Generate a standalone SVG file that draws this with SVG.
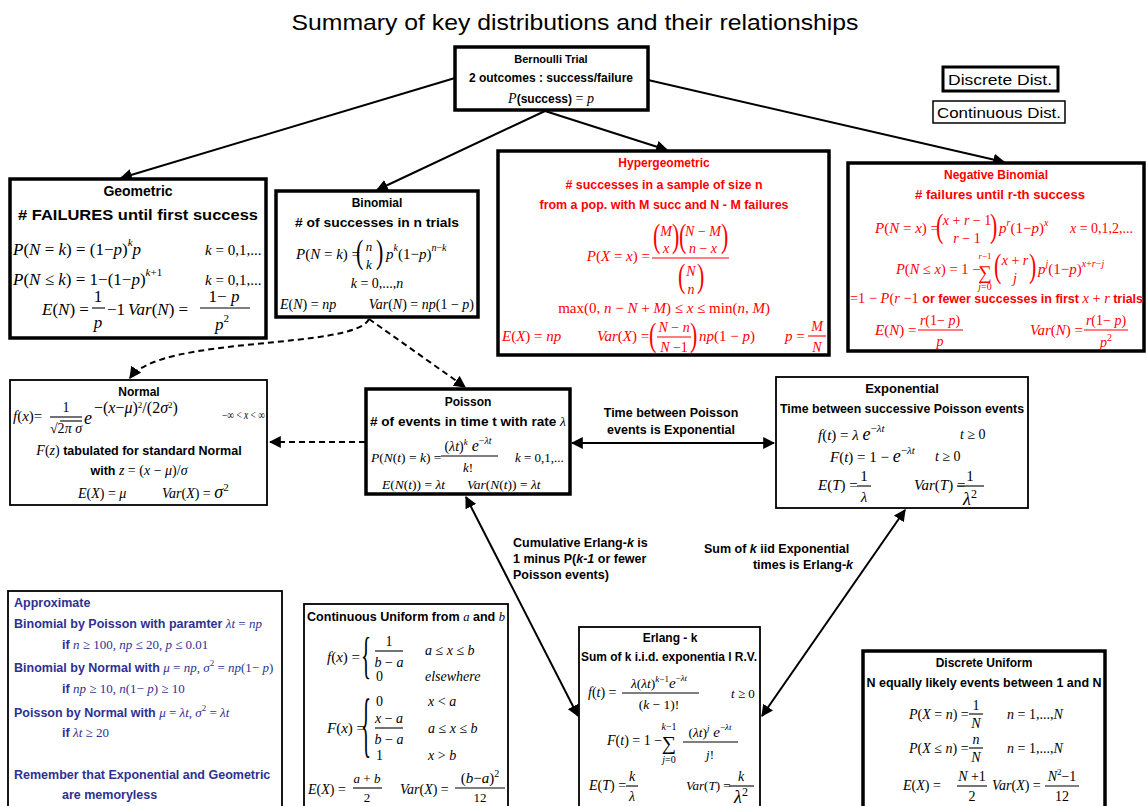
<svg xmlns="http://www.w3.org/2000/svg" width="1146" height="806" viewBox="0 0 1146 806">
<style>
.bx{fill:#fff;stroke:#000;stroke-width:3.5}
.tb{fill:#fff;stroke:#000;stroke-width:1.8}
.s{font-family:"Liberation Sans",Arial,sans-serif;font-weight:bold}
.st{font-family:"Liberation Sans",Arial,sans-serif;font-weight:bold;font-style:normal}
.m{font-family:"Liberation Serif","Times New Roman",serif;font-style:italic}
.u{font-style:normal}
.c{text-anchor:middle}
.e{text-anchor:end}
.ln{stroke:#000;stroke-width:2;fill:none}
.dl{stroke:#000;stroke-width:2;fill:none;stroke-dasharray:6,4}
.fb{stroke:#000;stroke-width:1.1}
.fr{stroke:#f00;stroke-width:1.1}
.bp{font-family:"Liberation Serif","Times New Roman",serif;font-size:22px}
</style>
<defs>
<marker id="ah" viewBox="0 0 10 10" refX="9" refY="5" markerWidth="6" markerHeight="6" orient="auto-start-reverse" markerUnits="strokeWidth"><path d="M0,0 L10,5 L0,10 z" fill="#000"/></marker>
</defs>
<rect width="1146" height="806" fill="#fff"/>
<text x="575" y="30" text-anchor="middle" font-family="Liberation Sans, Arial, sans-serif" font-size="22" textLength="567" lengthAdjust="spacingAndGlyphs">Summary of key distributions and their relationships</text>

<g id="connectors">
<path class="ln" d="M455,78 L121,178" marker-end="url(#ah)"/>
<path class="ln" d="M545,111 L377,190" marker-end="url(#ah)"/>
<path class="ln" d="M545,111 L667,150" marker-end="url(#ah)"/>
<path class="ln" d="M648,80 L1004,162" marker-end="url(#ah)"/>
<path class="dl" d="M369,319 C355,350 160,335 130,378" marker-end="url(#ah)"/>
<path class="dl" d="M369,319 L465,387" marker-end="url(#ah)"/>
<path class="dl" d="M365,442 L270,442" marker-end="url(#ah)"/>
<path class="ln" d="M572,443 L774,443" marker-start="url(#ah)" marker-end="url(#ah)"/>
<path class="ln" d="M466,497 L578,716" marker-start="url(#ah)" marker-end="url(#ah)"/>
<path class="ln" d="M905,510 L762,716" marker-start="url(#ah)" marker-end="url(#ah)"/>
<text class="s c" x="671" y="417" font-size="12.5">Time between Poisson</text>
<text class="s c" x="671" y="434" font-size="12.5">events is Exponential</text>
<text class="s" x="513" y="547" font-size="12.5">Cumulative Erlang-<tspan font-style="italic">k</tspan> is</text>
<text class="s" x="513" y="563" font-size="12.5">1 minus P(<tspan font-style="italic">k-1</tspan> or fewer</text>
<text class="s" x="513" y="579" font-size="12.5">Poisson events)</text>
<text class="s" x="704" y="553" font-size="12.5">Sum of <tspan font-style="italic">k</tspan> iid Exponential</text>
<text class="s e" x="853" y="569" font-size="12.5">times is Erlang-<tspan font-style="italic">k</tspan></text>
</g>

<g id="bernoulli">
<rect class="bx" x="455" y="47" width="193" height="63"/>
<text class="s c" x="551" y="63" font-size="11">Bernoulli Trial</text>
<text class="s c" x="551" y="82" font-size="12">2 outcomes :  success/failure</text>
<text class="m c" x="551" y="103" font-size="14">P<tspan class="st" font-size="12">(success)</tspan><tspan class="u"> = </tspan>p</text>
</g>

<g id="legend-discrete">
<rect x="943" y="67" width="115" height="24" fill="#fff" stroke="#000" stroke-width="3"/>
<text class="c" x="1000" y="85" font-family="Liberation Sans, Arial, sans-serif" font-size="15" textLength="104" lengthAdjust="spacingAndGlyphs">Discrete Dist.</text>
</g>
<g id="legend-continuous">
<rect x="933" y="101" width="132" height="22" fill="#fff" stroke="#000" stroke-width="1.5"/>
<text class="c" x="999" y="118" font-family="Liberation Sans, Arial, sans-serif" font-size="15" textLength="124" lengthAdjust="spacingAndGlyphs">Continuous  Dist.</text>
</g>

<g id="geometric">
<rect class="bx" x="10" y="179" width="256" height="159"/>
<text class="s c" x="138" y="196" font-size="14">Geometric</text>
<text class="s c" x="138" y="220" font-size="15" textLength="240" lengthAdjust="spacingAndGlyphs"># FAILURES until first success</text>
<text class="m" x="13" y="255" font-size="17">P<tspan class="u">(</tspan>N<tspan class="u"> = </tspan>k<tspan class="u">) = (1−</tspan>p<tspan class="u">)</tspan><tspan dy="-9" font-size="11">k</tspan><tspan dy="9">p</tspan></text>
<text class="m" x="205" y="255" font-size="15">k<tspan class="u"> = 0,1,...</tspan></text>
<text class="m" x="13" y="285" font-size="17">P<tspan class="u">(</tspan>N<tspan class="u"> ≤ </tspan>k<tspan class="u">) = 1−(1−</tspan>p<tspan class="u">)</tspan><tspan dy="-9" font-size="11">k<tspan class="u">+1</tspan></tspan></text>
<text class="m" x="205" y="285" font-size="15">k<tspan class="u"> = 0,1,...</tspan></text>
<text class="m" x="42" y="315" font-size="17">E<tspan class="u">(</tspan>N<tspan class="u">) =</tspan></text>
<text class="m u c" x="98" y="302" font-size="17">1</text>
<line class="fb" x1="92" y1="308" x2="105" y2="308"/>
<text class="m c" x="98" y="328" font-size="17">p</text>
<text class="m u" x="107" y="315" font-size="17">−1</text>
<text class="m" x="128" y="315" font-size="17">Var<tspan class="u">(</tspan>N<tspan class="u">) =</tspan></text>
<text class="m c" x="224" y="302" font-size="17"><tspan class="u">1− </tspan>p</text>
<line class="fb" x1="200" y1="308" x2="250" y2="308"/>
<text class="m c" x="222" y="330" font-size="17">p<tspan class="u" dy="-8" font-size="11">2</tspan></text>
</g>

<g id="binomial">
<rect class="bx" x="276" y="191" width="202" height="126"/>
<text class="s c" x="377" y="207" font-size="12">Binomial</text>
<text class="s c" x="377" y="227" font-size="13" textLength="164" lengthAdjust="spacingAndGlyphs"># of successes in n trials</text>
<text class="m" x="296" y="259" font-size="15">P<tspan class="u">(</tspan>N<tspan class="u"> = </tspan>k<tspan class="u">) =</tspan></text>
<text class="bp" transform="translate(356,263) scale(1,1.5)">(</text>
<text class="bp" transform="translate(376,263) scale(1,1.5)">)</text>
<text class="m c" x="369" y="251" font-size="13">n</text>
<text class="m c" x="369" y="269" font-size="13">k</text>
<text class="m" x="386" y="259" font-size="15">p<tspan dy="-8" font-size="10">k</tspan><tspan class="u" dy="8">(1−</tspan>p<tspan class="u">)</tspan><tspan dy="-8" font-size="10">n<tspan class="u">−</tspan>k</tspan></text>
<text class="m c" x="377" y="288" font-size="14">k<tspan class="u"> = 0,...,</tspan>n</text>
<text class="m" x="280" y="309" font-size="14">E<tspan class="u">(</tspan>N<tspan class="u">) = </tspan>np</text>
<text class="m e" x="474" y="309" font-size="14">Var<tspan class="u">(</tspan>N<tspan class="u">) = </tspan>np<tspan class="u">(1 − </tspan>p<tspan class="u">)</tspan></text>
</g>

<g id="hypergeometric" fill="#f00">
<rect class="bx" x="498" y="151" width="331" height="204"/>
<text class="s c" x="664" y="167" font-size="12">Hypergeometric</text>
<text class="s c" x="664" y="189" font-size="13" textLength="197" lengthAdjust="spacingAndGlyphs"># successes in a sample of size n</text>
<text class="s c" x="664" y="209" font-size="13" textLength="249" lengthAdjust="spacingAndGlyphs">from a pop. with M succ and N - M failures</text>
<text class="m e" x="650" y="261" font-size="15">P<tspan class="u">(</tspan>X<tspan class="u"> = </tspan>x<tspan class="u">) =</tspan></text>
<text class="bp" transform="translate(653,247) scale(1,1.5)">(</text>
<text class="bp" transform="translate(672,247) scale(1,1.5)">)</text>
<text class="bp" transform="translate(679,247) scale(1,1.5)">(</text>
<text class="bp" transform="translate(721,247) scale(1,1.5)">)</text>
<text class="m c" x="666" y="236" font-size="14">M</text>
<text class="m c" x="666" y="253" font-size="14">x</text>
<text class="m c" x="703" y="236" font-size="14">N<tspan class="u"> − </tspan>M</text>
<text class="m c" x="703" y="253" font-size="14">n<tspan class="u"> − </tspan>x</text>
<line class="fr" x1="652" y1="258" x2="729" y2="258"/>
<text class="bp" transform="translate(678,287) scale(1,1.5)">(</text>
<text class="bp" transform="translate(697,287) scale(1,1.5)">)</text>
<text class="m c" x="691" y="276" font-size="14">N</text>
<text class="m c" x="691" y="294" font-size="14">n</text>
<text class="m c" x="664" y="313" font-size="15"><tspan class="u">max(0, </tspan>n<tspan class="u"> − </tspan>N<tspan class="u"> + </tspan>M<tspan class="u">) ≤ </tspan>x<tspan class="u"> ≤ min(</tspan>n<tspan class="u">, </tspan>M<tspan class="u">)</tspan></text>
<text class="m" x="502" y="341" font-size="15">E<tspan class="u">(</tspan>X<tspan class="u">) = </tspan>np</text>
<text class="m" x="597" y="341" font-size="15">Var<tspan class="u">(</tspan>X<tspan class="u">) =</tspan></text>
<text class="bp" transform="translate(649,346) scale(1,1.5)">(</text>
<text class="bp" transform="translate(690,346) scale(1,1.5)">)</text>
<text class="m c" x="674" y="332" font-size="14">N<tspan class="u"> − </tspan>n</text>
<line class="fr" x1="657" y1="337" x2="691" y2="337"/>
<text class="m c" x="674" y="352" font-size="14">N<tspan class="u"> −1</tspan></text>
<text class="m" x="699" y="341" font-size="15">np<tspan class="u">(1 − </tspan>p<tspan class="u">)</tspan></text>
<text class="m" x="785" y="341" font-size="15">p<tspan class="u"> =</tspan></text>
<text class="m c" x="817" y="331" font-size="14">M</text>
<line class="fr" x1="808" y1="336" x2="826" y2="336"/>
<text class="m c" x="817" y="352" font-size="14">N</text>
</g>

<g id="negative-binomial" fill="#f00">
<rect class="bx" x="848" y="163" width="296" height="188"/>
<text class="s c" x="996" y="179" font-size="12">Negative Binomial</text>
<text class="s c" x="1000" y="199" font-size="13" textLength="170" lengthAdjust="spacingAndGlyphs"># failures until r-th success</text>
<text class="m" x="875" y="233" font-size="15">P<tspan class="u">(</tspan>N<tspan class="u"> = </tspan>x<tspan class="u">) =</tspan></text>
<text class="bp" transform="translate(936,237) scale(1,1.5)">(</text>
<text class="bp" transform="translate(990,237) scale(1,1.5)">)</text>
<text class="m c" x="967" y="225" font-size="14">x<tspan class="u"> + </tspan>r<tspan class="u"> − 1</tspan></text>
<text class="m c" x="967" y="243" font-size="14">r<tspan class="u"> − 1</tspan></text>
<text class="m" x="999" y="233" font-size="15">p<tspan dy="-7" font-size="10">r</tspan><tspan class="u" dy="7">(1−</tspan>p<tspan class="u">)</tspan><tspan dy="-7" font-size="10">x</tspan></text>
<text class="m" x="1070" y="233" font-size="14">x<tspan class="u"> = 0,1,2,...</tspan></text>
<text class="m" x="896" y="274" font-size="14.5">P<tspan class="u">(</tspan>N<tspan class="u"> ≤ </tspan>x<tspan class="u">) = 1 −</tspan></text>
<text class="m u c" x="985" y="279" font-size="19">∑</text>
<text class="m c" x="985" y="259" font-size="9">r<tspan class="u">−1</tspan></text>
<text class="m c" x="985" y="290" font-size="10">j<tspan class="u">=0</tspan></text>
<text class="bp" transform="translate(994,277) scale(1,1.5)">(</text>
<text class="bp" transform="translate(1029,277) scale(1,1.5)">)</text>
<text class="m c" x="1015" y="265" font-size="14">x<tspan class="u"> + </tspan>r</text>
<text class="m c" x="1015" y="283" font-size="14">j</text>
<text class="m" x="1038" y="274" font-size="15">p<tspan dy="-7" font-size="10">j</tspan><tspan class="u" dy="7">(1−</tspan>p<tspan class="u">)</tspan><tspan dy="-7" font-size="10">x<tspan class="u">+</tspan>r<tspan class="u">−</tspan>j</tspan></text>
<text class="m" x="850" y="303" font-size="15" textLength="293" lengthAdjust="spacingAndGlyphs"><tspan class="u">=1 − </tspan>P<tspan class="u">(</tspan>r<tspan class="u"> −1 </tspan><tspan class="st" font-size="13">or fewer successes in first </tspan>x<tspan class="u"> + </tspan>r<tspan class="st" font-size="13"> trials</tspan></text>
<text class="m" x="875" y="335" font-size="15">E<tspan class="u">(</tspan>N<tspan class="u">) =</tspan></text>
<text class="m c" x="940" y="325" font-size="14">r<tspan class="u">(1− </tspan>p<tspan class="u">)</tspan></text>
<line class="fr" x1="918" y1="330" x2="963" y2="330"/>
<text class="m c" x="940" y="346" font-size="14">p</text>
<text class="m" x="1030" y="335" font-size="15">Var<tspan class="u">(</tspan>N<tspan class="u">) =</tspan></text>
<text class="m c" x="1106" y="325" font-size="14">r<tspan class="u">(1− </tspan>p<tspan class="u">)</tspan></text>
<line class="fr" x1="1084" y1="330" x2="1128" y2="330"/>
<text class="m c" x="1106" y="347" font-size="14">p<tspan class="u" dy="-6" font-size="10">2</tspan></text>
</g>

<g id="normal">
<rect class="tb" x="10" y="380" width="257" height="125"/>
<text class="s c" x="139" y="396" font-size="12">Normal</text>
<text class="m" x="13" y="421" font-size="15">f<tspan class="u">(</tspan>x<tspan class="u">)=</tspan></text>
<text class="m u c" x="66" y="412" font-size="14">1</text>
<line class="fb" x1="50" y1="417" x2="82" y2="417"/>
<text class="m c" x="66" y="433" font-size="14"><tspan class="u">√2</tspan>π σ</text>
<line class="fb" x1="60" y1="421" x2="82" y2="421"/>
<text class="m" x="84" y="424" font-size="18">e</text>
<text class="m" x="94" y="413" font-size="16"><tspan class="u">−(</tspan>x<tspan class="u">−</tspan>μ<tspan class="u">)</tspan><tspan class="u" dy="-5" font-size="9">2</tspan><tspan class="u" dy="5">/(2</tspan>σ<tspan class="u" dy="-5" font-size="9">2</tspan><tspan class="u" dy="5">)</tspan></text>
<text class="m" x="222" y="419" font-size="12" textLength="43" lengthAdjust="spacingAndGlyphs"><tspan class="u">−∞ &lt; </tspan>x<tspan class="u"> &lt; ∞</tspan></text>
<text class="m c" x="139" y="455" font-size="14">F<tspan class="u">(</tspan>z<tspan class="u">)</tspan><tspan class="st" font-size="12.5"> tabulated for standard Normal</tspan></text>
<text class="m c" x="139" y="475" font-size="14"><tspan class="st" font-size="12.5">with </tspan>z<tspan class="u"> = (</tspan>x<tspan class="u"> − </tspan>μ<tspan class="u">)/</tspan>σ</text>
<text class="m" x="78" y="498" font-size="14">E<tspan class="u">(</tspan>X<tspan class="u">) = </tspan>μ</text>
<text class="m" x="162" y="498" font-size="14">Var<tspan class="u">(</tspan>X<tspan class="u">) = </tspan><tspan font-size="18">σ</tspan><tspan class="u" dy="-7" font-size="11">2</tspan></text>
</g>

<g id="poisson">
<rect class="bx" x="366" y="389" width="204" height="105"/>
<text class="s c" x="468" y="406" font-size="12">Poisson</text>
<text class="s c" x="468" y="426" font-size="12" textLength="196" lengthAdjust="spacingAndGlyphs"># of events in time t with rate <tspan font-family="Liberation Serif, serif" font-style="italic" font-weight="normal">λ</tspan></text>
<text class="m" x="371" y="462" font-size="13.5">P<tspan class="u">(</tspan>N<tspan class="u">(</tspan>t<tspan class="u">) = </tspan>k<tspan class="u">) =</tspan></text>
<text class="m c" x="468" y="451" font-size="14"><tspan class="u">(</tspan>λt<tspan class="u">)</tspan><tspan dy="-6" font-size="9">k</tspan><tspan dy="6" font-size="16"> e</tspan><tspan dy="-7" font-size="10"><tspan class="u">−</tspan>λt</tspan></text>
<line class="fb" x1="441" y1="456" x2="498" y2="456"/>
<text class="m c" x="468" y="472" font-size="13">k<tspan class="u">!</tspan></text>
<text class="m" x="515" y="462" font-size="13">k<tspan class="u"> = 0,1,...</tspan></text>
<text class="m" x="382" y="489" font-size="13.5">E<tspan class="u">(</tspan>N<tspan class="u">(</tspan>t<tspan class="u">)) = </tspan>λt</text>
<text class="m" x="467" y="489" font-size="13.5">Var<tspan class="u">(</tspan>N<tspan class="u">(</tspan>t<tspan class="u">)) = </tspan>λt</text>
</g>

<g id="exponential">
<rect class="tb" x="776" y="377" width="252" height="131"/>
<text class="s c" x="902" y="393" font-size="13">Exponential</text>
<text class="s c" x="902" y="413" font-size="12.5" textLength="244" lengthAdjust="spacingAndGlyphs">Time between successive Poisson events</text>
<text class="m" x="818" y="440" font-size="15">f<tspan class="u">(</tspan>t<tspan class="u">) = </tspan>λ <tspan font-size="18">e</tspan><tspan dy="-8" font-size="11"><tspan class="u">−</tspan>λt</tspan></text>
<text class="m" x="960" y="439" font-size="14">t<tspan class="u"> ≥ 0</tspan></text>
<text class="m" x="830" y="462" font-size="15">F<tspan class="u">(</tspan>t<tspan class="u">) = 1 − </tspan><tspan font-size="18">e</tspan><tspan dy="-8" font-size="11"><tspan class="u">−</tspan>λt</tspan></text>
<text class="m" x="935" y="461" font-size="14">t<tspan class="u"> ≥ 0</tspan></text>
<text class="m" x="818" y="490" font-size="15">E<tspan class="u">(</tspan>T<tspan class="u">) =</tspan></text>
<text class="m u c" x="864" y="481" font-size="15">1</text>
<line class="fb" x1="857" y1="486" x2="871" y2="486"/>
<text class="m c" x="864" y="502" font-size="15">λ</text>
<text class="m" x="914" y="490" font-size="15">Var<tspan class="u">(</tspan>T<tspan class="u">) =</tspan></text>
<text class="m u c" x="970" y="481" font-size="15">1</text>
<line class="fb" x1="957" y1="486" x2="984" y2="486"/>
<text class="m c" x="970" y="505" font-size="18">λ<tspan class="u" dy="-7" font-size="12">2</tspan></text>
</g>

<g id="approximate" fill="#2e3192">
<rect class="tb" x="8" y="591" width="274" height="225"/>
<text class="s" x="14" y="607" font-size="12.5">Approximate</text>
<text class="s" x="14" y="628" font-size="12.5">Binomial by Poisson with paramter <tspan class="m" font-weight="normal" font-size="13">λt<tspan class="u"> = </tspan>np</tspan></text>
<text class="s" x="62" y="649" font-size="12.5">if <tspan class="m" font-weight="normal" font-size="13">n<tspan class="u"> ≥ 100,  </tspan>np<tspan class="u"> ≤ 20,  </tspan>p<tspan class="u"> ≤ 0.01</tspan></tspan></text>
<text class="s" x="14" y="672" font-size="12.5">Binomial by Normal with <tspan class="m" font-weight="normal" font-size="13">μ<tspan class="u"> = </tspan>np<tspan class="u">, </tspan>σ<tspan class="u" dy="-6" font-size="9">2</tspan><tspan class="u" dy="6"> = </tspan>np<tspan class="u">(1− </tspan>p<tspan class="u">)</tspan></tspan></text>
<text class="s" x="62" y="693" font-size="12.5">if <tspan class="m" font-weight="normal" font-size="13">np<tspan class="u"> ≥ 10, </tspan>n<tspan class="u">(1− </tspan>p<tspan class="u">) ≥ 10</tspan></tspan></text>
<text class="s" x="14" y="717" font-size="12.5">Poisson by Normal with <tspan class="m" font-weight="normal" font-size="13">μ<tspan class="u"> = </tspan>λt<tspan class="u">, </tspan>σ<tspan class="u" dy="-6" font-size="9">2</tspan><tspan class="u" dy="6"> = </tspan>λt</tspan></text>
<text class="s" x="62" y="737" font-size="12.5">if <tspan class="m" font-weight="normal" font-size="13">λt<tspan class="u"> ≥ 20</tspan></tspan></text>
<text class="s" x="14" y="779" font-size="12.5">Remember that Exponential and Geometric</text>
<text class="s" x="62" y="799" font-size="12.5">are memoryless</text>
</g>

<g id="continuous-uniform">
<rect class="tb" x="304" y="604" width="204" height="212"/>
<text class="s" x="307" y="621" font-size="12" textLength="198" lengthAdjust="spacingAndGlyphs">Continuous Uniform from <tspan font-family="Liberation Serif, serif" font-style="italic" font-weight="normal">a</tspan> and <tspan font-family="Liberation Serif, serif" font-style="italic" font-weight="normal">b</tspan></text>
<text class="m" x="327" y="662" font-size="15">f<tspan class="u">(</tspan>x<tspan class="u">) =</tspan></text>
<text class="m u" transform="translate(361,672) scale(0.42,1)" font-size="50">{</text>
<text class="m u c" x="389" y="646" font-size="14">1</text>
<line class="fb" x1="375" y1="651" x2="403" y2="651"/>
<text class="m c" x="389" y="667" font-size="14">b<tspan class="u"> − </tspan>a</text>
<text class="m" x="425" y="655" font-size="14">a<tspan class="u"> ≤ </tspan>x<tspan class="u"> ≤ </tspan>b</text>
<text class="m u" x="376" y="681" font-size="14">0</text>
<text class="m" x="425" y="681" font-size="14">elsewhere</text>
<text class="m" x="327" y="733" font-size="15">F<tspan class="u">(</tspan>x<tspan class="u">) =</tspan></text>
<text class="m u" transform="translate(361,748) scale(0.42,1.45)" font-size="50">{</text>
<text class="m u" x="376" y="706" font-size="14">0</text>
<text class="m" x="428" y="706" font-size="14">x<tspan class="u"> &lt; </tspan>a</text>
<text class="m c" x="389" y="723" font-size="14">x<tspan class="u"> − </tspan>a</text>
<line class="fb" x1="375" y1="728" x2="403" y2="728"/>
<text class="m c" x="389" y="744" font-size="14">b<tspan class="u"> − </tspan>a</text>
<text class="m" x="428" y="733" font-size="14">a<tspan class="u"> ≤ </tspan>x<tspan class="u"> ≤ </tspan>b</text>
<text class="m u" x="376" y="760" font-size="14">1</text>
<text class="m" x="428" y="760" font-size="14">x<tspan class="u"> &gt; </tspan>b</text>
<text class="m" x="308" y="794" font-size="14">E<tspan class="u">(</tspan>X<tspan class="u">) =</tspan></text>
<text class="m c" x="367" y="783" font-size="13">a<tspan class="u"> + </tspan>b</text>
<line class="fb" x1="353" y1="788" x2="382" y2="788"/>
<text class="m u c" x="367" y="802" font-size="13">2</text>
<text class="m" x="400" y="794" font-size="14">Var<tspan class="u">(</tspan>X<tspan class="u">) =</tspan></text>
<text class="m c" x="480" y="783" font-size="15"><tspan class="u">(</tspan>b<tspan class="u">−</tspan>a<tspan class="u">)</tspan><tspan class="u" dy="-6" font-size="10">2</tspan></text>
<line class="fb" x1="455" y1="788" x2="505" y2="788"/>
<text class="m u c" x="480" y="802" font-size="13">12</text>
</g>

<g id="erlang">
<rect class="tb" x="579" y="627" width="181" height="190"/>
<text class="s c" x="670" y="642" font-size="12">Erlang - k</text>
<text class="s c" x="669" y="661" font-size="12" textLength="176" lengthAdjust="spacingAndGlyphs">Sum of k i.i.d. exponentia l R.V.</text>
<text class="m" x="588" y="697" font-size="14">f<tspan class="u">(</tspan>t<tspan class="u">) =</tspan></text>
<text class="m c" x="659" y="688" font-size="13.5">λ<tspan class="u">(</tspan>λt<tspan class="u">)</tspan><tspan dy="-6" font-size="9">k<tspan class="u">−1</tspan></tspan><tspan dy="6" font-size="15">e</tspan><tspan dy="-7" font-size="9"><tspan class="u">−</tspan>λt</tspan></text>
<line class="fb" x1="622" y1="693" x2="699" y2="693"/>
<text class="m c" x="659" y="709" font-size="13.5"><tspan class="u">(</tspan>k<tspan class="u"> − 1)!</tspan></text>
<text class="m" x="731" y="698" font-size="13">t<tspan class="u"> ≥ 0</tspan></text>
<text class="m" x="607" y="745" font-size="14">F<tspan class="u">(</tspan>t<tspan class="u">) = 1 −</tspan></text>
<text class="m u c" x="669" y="750" font-size="20">∑</text>
<text class="m c" x="669" y="730" font-size="10">k<tspan class="u">−1</tspan></text>
<text class="m c" x="669" y="763" font-size="10">j<tspan class="u">=0</tspan></text>
<text class="m c" x="710" y="737" font-size="13.5"><tspan class="u">(</tspan>λt<tspan class="u">)</tspan><tspan dy="-6" font-size="9">j</tspan><tspan dy="6" font-size="15"> e</tspan><tspan dy="-7" font-size="9"><tspan class="u">−</tspan>λt</tspan></text>
<line class="fb" x1="683" y1="742" x2="738" y2="742"/>
<text class="m c" x="710" y="759" font-size="13">j<tspan class="u">!</tspan></text>
<text class="m" x="589" y="790" font-size="14">E<tspan class="u">(</tspan>T<tspan class="u">) =</tspan></text>
<text class="m c" x="632" y="781" font-size="14">k</text>
<line class="fb" x1="626" y1="786" x2="638" y2="786"/>
<text class="m c" x="632" y="801" font-size="14">λ</text>
<text class="m" x="686" y="790" font-size="13">Var<tspan class="u">(</tspan>T<tspan class="u">) =</tspan></text>
<text class="m c" x="741" y="781" font-size="14">k</text>
<line class="fb" x1="729" y1="786" x2="754" y2="786"/>
<text class="m c" x="741" y="803" font-size="18">λ<tspan class="u" dy="-7" font-size="12">2</tspan></text>
</g>

<g id="discrete-uniform">
<rect class="bx" x="863" y="651" width="242" height="165"/>
<text class="s c" x="984" y="667" font-size="12">Discrete Uniform</text>
<text class="s c" x="984" y="687" font-size="12" textLength="235" lengthAdjust="spacingAndGlyphs">N equally likely events between 1 and N</text>
<text class="m" x="909" y="719" font-size="14">P<tspan class="u">(</tspan>X<tspan class="u"> = </tspan>n<tspan class="u">) =</tspan></text>
<text class="m u c" x="976" y="710" font-size="14">1</text>
<line class="fb" x1="969" y1="714" x2="983" y2="714"/>
<text class="m c" x="976" y="728" font-size="14">N</text>
<text class="m" x="1007" y="719" font-size="14">n<tspan class="u"> = 1,...,</tspan>N</text>
<text class="m" x="909" y="753" font-size="14">P<tspan class="u">(</tspan>X<tspan class="u"> ≤ </tspan>n<tspan class="u">) =</tspan></text>
<text class="m c" x="976" y="744" font-size="14">n</text>
<line class="fb" x1="969" y1="748" x2="983" y2="748"/>
<text class="m c" x="976" y="762" font-size="14">N</text>
<text class="m" x="1007" y="753" font-size="14">n<tspan class="u"> = 1,...,</tspan>N</text>
<text class="m" x="903" y="790" font-size="14">E<tspan class="u">(</tspan>X<tspan class="u">) =</tspan></text>
<text class="m c" x="972" y="781" font-size="14">N<tspan class="u"> +1</tspan></text>
<line class="fb" x1="957" y1="786" x2="987" y2="786"/>
<text class="m u c" x="972" y="801" font-size="14">2</text>
<text class="m" x="992" y="790" font-size="14">Var<tspan class="u">(</tspan>X<tspan class="u">) =</tspan></text>
<text class="m c" x="1062" y="781" font-size="14">N<tspan class="u" dy="-6" font-size="9">2</tspan><tspan class="u" dy="6">−1</tspan></text>
<line class="fb" x1="1045" y1="786" x2="1079" y2="786"/>
<text class="m u c" x="1062" y="801" font-size="14">12</text>
</g>
</svg>
